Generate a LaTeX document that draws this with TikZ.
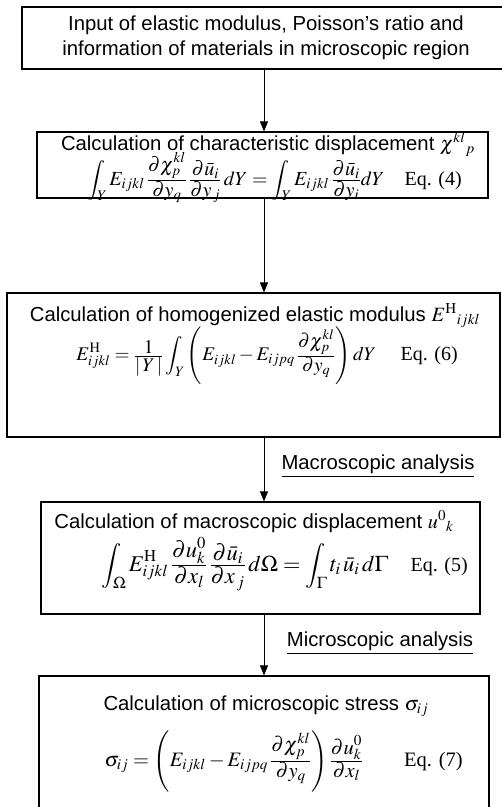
\documentclass[tikz,border=0pt]{standalone}
\usepackage{mathptmx}
\usepackage[no-math]{fontspec}
\setmainfont{Liberation Sans}
\newfontfamily\serifeq{Liberation Serif}
\usetikzlibrary{arrows.meta}
\newcommand{\cfr}[2]{{\textstyle\frac{\displaystyle #1}{\displaystyle #2}}}
\begin{document}
\begin{tikzpicture}[x=1pt,y=-1pt,
  box/.style={draw, line width=1.1pt, inner sep=0pt},
  flow/.style={-{Triangle[length=10pt,width=8pt]}, line width=0.9pt},
  ttl/.style={inner sep=0pt, font=\fontsize{20.3}{25}\selectfont},
  eqn/.style={inner sep=0pt, font=\fontsize{20.5}{23}\selectfont},
]
\useasboundingbox (0,0) rectangle (502,807);
\fill[white] (0,0) rectangle (502,807);
% boxes
\node[box, minimum width=482pt, minimum height=62pt] (b1) at (263,38) {};
\node[box, minimum width=451pt, minimum height=66pt] (b2) at (262.5,165) {};
\node[box, minimum width=493pt, minimum height=144pt] (b3) at (253.5,365) {};
\node[box, minimum width=439pt, minimum height=112pt] (b4) at (260.5,558) {};
\node[box, minimum width=450pt, minimum height=136pt] (b5) at (264,744) {};
% texts
\node[ttl, align=center] (t1) at (266,38) {Input of elastic modulus, Poisson's ratio and\\information of materials in microscopic region};
\node[ttl, anchor=base] (t2) at (268,150) {Calculation of characteristic displacement $\chi^{kl}{}_{p}$};
\node[eqn, anchor=east, font=\fontsize{20}{23}\selectfont] (e2) at (462,177.5) {$\displaystyle\int_Y E_{ijkl}\,\cfr{\partial\chi_p^{kl}}{\partial y_q}\,\cfr{\partial\bar u_i}{\partial y_{\,j}}\,dY = \int_Y E_{ijkl}\,\cfr{\partial\bar u_i}{\partial y_i}dY$\quad{\serifeq Eq. (4)}};
\node[ttl, anchor=base] (t3) at (255,321) {Calculation of homogenized elastic modulus $E^{\mathrm{H}}{}_{ijkl}$};
\node[eqn, anchor=east, font=\fontsize{19.3}{23}\selectfont] (e3) at (458,356) {$\displaystyle E^{\mathrm{H}}_{ijkl} = \cfr{1}{|\,Y\,|}\int_Y\left(E_{ijkl} - E_{ijpq}\,\cfr{\partial\chi_p^{kl}}{\partial y_q}\right)dY$\quad\;{\serifeq\fontsize{20}{23}\selectfont Eq. (6)}};
\node[ttl, anchor=base] (t4) at (254,528) {Calculation of macroscopic displacement $u^{0}{}_{k}$};
\node[eqn, anchor=east, font=\fontsize{22.5}{25}\selectfont] (e4) at (468,564) {$\displaystyle\int_\Omega E^{\mathrm{H}}_{ijkl}\,\cfr{\partial u_k^0}{\partial x_l}\,\cfr{\partial\bar u_i}{\partial x_{\,j}}\,d\Omega = \int_\Gamma t_i\,\bar u_i\,d\Gamma$\quad{\serifeq\fontsize{20}{23}\selectfont Eq. (5)}};
\node[ttl, anchor=base] (t5) at (266,710) {Calculation of microscopic stress $\sigma_{ij}$};
\node[eqn, anchor=east] (e5) at (463,761) {$\displaystyle\sigma_{ij} = \left(E_{ijkl} - E_{ijpq}\,\cfr{\partial\chi_p^{kl}}{\partial y_q}\right)\cfr{\partial u_k^0}{\partial x_l}$\qquad{\serifeq Eq. (7)}};
% connectors
\coordinate (ax) at (264,0);
\draw[flow] (b1.south -| ax) -- (b2.north -| ax);
\draw[flow] (b2.south -| ax) -- (b3.north -| ax);
\draw[flow] (b3.south -| ax) -- (b4.north -| ax);
\draw[flow] (b4.south -| ax) -- (b5.north -| ax);
% labels
\node[ttl] (l1) at (378,466) {\underline{Macroscopic analysis}};
\node[ttl] (l2) at (380,643) {\underline{Microscopic analysis}};
\end{tikzpicture}
\end{document}
